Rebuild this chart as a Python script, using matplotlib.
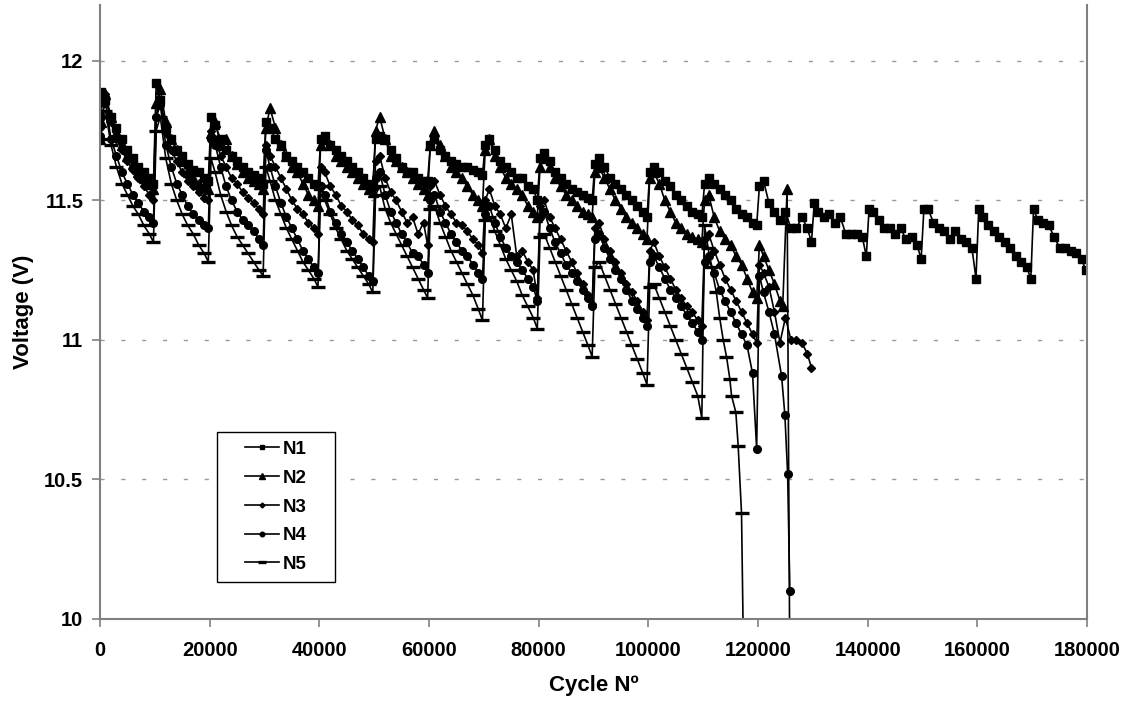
import matplotlib
matplotlib.use("Agg")

import matplotlib.pyplot as plt
from matplotlib.patches import Rectangle

# Every 10000 cycles the battery is recharged, so data are grouped by period.
PERIOD = 10000
OFFSETS = [250, 1000, 2000, 3000, 4000, 5000, 6000, 7000, 8000, 9000, 9750]

# voltage at cycle 0
START_VOLTS = {"N1": 11.88, "N2": 11.72, "N3": 11.76, "N4": 11.73, "N5": 11.72}

# one row of voltages per 10000-cycle period (values at OFFSETS)
N1_VOLTS = [
    [11.89, 11.86, 11.80, 11.76, 11.72, 11.68, 11.65, 11.62, 11.60, 11.58, 11.56],
    [11.92, 11.86, 11.76, 11.72, 11.68, 11.66, 11.63, 11.61, 11.60, 11.58, 11.57],
    [11.80, 11.77, 11.72, 11.68, 11.66, 11.64, 11.62, 11.60, 11.59, 11.58, 11.56],
    [11.78, 11.76, 11.72, 11.70, 11.66, 11.64, 11.62, 11.60, 11.58, 11.56, 11.55],
    [11.72, 11.73, 11.70, 11.68, 11.66, 11.64, 11.62, 11.60, 11.58, 11.56, 11.55],
    [11.72, 11.73, 11.72, 11.68, 11.65, 11.62, 11.60, 11.60, 11.58, 11.57, 11.57],
    [11.70, 11.72, 11.68, 11.66, 11.64, 11.63, 11.62, 11.62, 11.61, 11.60, 11.59],
    [11.70, 11.72, 11.68, 11.64, 11.62, 11.60, 11.58, 11.58, 11.55, 11.54, 11.50],
    [11.65, 11.67, 11.64, 11.60, 11.58, 11.56, 11.54, 11.53, 11.52, 11.51, 11.50],
    [11.63, 11.65, 11.62, 11.58, 11.56, 11.54, 11.52, 11.50, 11.48, 11.46, 11.44],
    [11.60, 11.62, 11.60, 11.57, 11.55, 11.52, 11.50, 11.48, 11.46, 11.45, 11.44],
    [11.56, 11.58, 11.56, 11.54, 11.52, 11.50, 11.47, 11.45, 11.44, 11.42, 11.41],
    [11.55, 11.57, 11.49, 11.46, 11.43, 11.46, 11.40, 11.40, 11.44, 11.40, 11.35],
    [11.49, 11.46, 11.44, 11.45, 11.42, 11.44, 11.38, 11.38, 11.38, 11.37, 11.30],
    [11.47, 11.46, 11.43, 11.40, 11.40, 11.38, 11.40, 11.36, 11.37, 11.34, 11.29],
    [11.47, 11.47, 11.42, 11.40, 11.39, 11.36, 11.39, 11.36, 11.35, 11.33, 11.22],
    [11.47, 11.44, 11.41, 11.39, 11.37, 11.35, 11.33, 11.30, 11.28, 11.26, 11.22],
    [11.47, 11.43, 11.42, 11.41, 11.37, 11.33, 11.33, 11.32, 11.31, 11.29, 11.25],
]

N2_VOLTS = [
    [11.78, 11.88, 11.80, 11.74, 11.70, 11.66, 11.63, 11.60, 11.58, 11.56, 11.54],
    [11.85, 11.90, 11.78, 11.72, 11.68, 11.64, 11.60, 11.58, 11.56, 11.55, 11.54],
    [11.74, 11.78, 11.70, 11.72, 11.66, 11.63, 11.60, 11.58, 11.57, 11.56, 11.54],
    [11.76, 11.83, 11.76, 11.70, 11.66, 11.62, 11.60, 11.56, 11.52, 11.50, 11.48],
    [11.70, 11.72, 11.70, 11.66, 11.64, 11.62, 11.60, 11.58, 11.56, 11.54, 11.53],
    [11.75, 11.80, 11.72, 11.66, 11.64, 11.62, 11.60, 11.58, 11.56, 11.54, 11.52],
    [11.70, 11.75, 11.70, 11.66, 11.62, 11.60, 11.58, 11.55, 11.52, 11.50, 11.48],
    [11.68, 11.72, 11.66, 11.62, 11.58, 11.56, 11.54, 11.52, 11.48, 11.46, 11.44],
    [11.62, 11.65, 11.62, 11.58, 11.55, 11.52, 11.50, 11.48, 11.46, 11.45, 11.44],
    [11.60, 11.62, 11.58, 11.54, 11.50, 11.47, 11.44, 11.42, 11.40, 11.38, 11.36],
    [11.58, 11.60, 11.56, 11.50, 11.46, 11.42, 11.40, 11.38, 11.37, 11.36, 11.35],
    [11.50, 11.52, 11.44, 11.39, 11.36, 11.34, 11.30, 11.27, 11.22, 11.17, 11.15],
]
N2_TAIL_CYCLES = [120250, 121000, 122000, 123000, 124000, 124500, 125300, 125800]
N2_TAIL_VOLTS = [11.34, 11.30, 11.25, 11.20, 11.14, 11.12, 11.54, 9.80]

N3_VOLTS = [
    [11.85, 11.88, 11.78, 11.72, 11.68, 11.64, 11.61, 11.58, 11.55, 11.52, 11.50],
    [11.80, 11.86, 11.74, 11.68, 11.64, 11.60, 11.57, 11.55, 11.53, 11.51, 11.50],
    [11.75, 11.72, 11.66, 11.62, 11.58, 11.56, 11.53, 11.51, 11.49, 11.47, 11.45],
    [11.70, 11.66, 11.62, 11.58, 11.54, 11.50, 11.47, 11.45, 11.42, 11.40, 11.38],
    [11.62, 11.60, 11.55, 11.52, 11.48, 11.46, 11.43, 11.41, 11.38, 11.36, 11.35],
    [11.64, 11.66, 11.58, 11.53, 11.50, 11.46, 11.42, 11.44, 11.38, 11.42, 11.34],
    [11.55, 11.57, 11.52, 11.48, 11.45, 11.42, 11.41, 11.39, 11.36, 11.34, 11.31],
    [11.50, 11.54, 11.48, 11.45, 11.40, 11.45, 11.30, 11.32, 11.28, 11.25, 11.15],
    [11.48, 11.50, 11.44, 11.40, 11.36, 11.32, 11.28, 11.24, 11.20, 11.16, 11.13],
    [11.40, 11.42, 11.36, 11.32, 11.28, 11.24, 11.20, 11.17, 11.14, 11.10, 11.07],
    [11.32, 11.35, 11.30, 11.26, 11.22, 11.18, 11.15, 11.12, 11.10, 11.07, 11.05],
    [11.36, 11.38, 11.32, 11.27, 11.22, 11.18, 11.14, 11.10, 11.06, 11.02, 10.99],
    [11.27, 11.24, 11.19, 11.10, 10.99, 11.08, 11.00, 11.00, 10.99, 10.95, 10.90],
]

N4_VOLTS = [
    [11.80, 11.85, 11.72, 11.66, 11.60, 11.56, 11.52, 11.49, 11.46, 11.44, 11.42],
    [11.80, 11.84, 11.70, 11.62, 11.56, 11.52, 11.48, 11.45, 11.43, 11.41, 11.40],
    [11.72, 11.70, 11.62, 11.55, 11.50, 11.46, 11.43, 11.41, 11.39, 11.36, 11.34],
    [11.68, 11.62, 11.55, 11.49, 11.44, 11.40, 11.36, 11.32, 11.29, 11.26, 11.24],
    [11.55, 11.52, 11.46, 11.42, 11.38, 11.35, 11.32, 11.29, 11.26, 11.23, 11.21],
    [11.58, 11.60, 11.52, 11.46, 11.42, 11.38, 11.35, 11.31, 11.30, 11.27, 11.24],
    [11.50, 11.52, 11.46, 11.42, 11.38, 11.35, 11.32, 11.30, 11.27, 11.24, 11.22],
    [11.45, 11.48, 11.42, 11.37, 11.33, 11.30, 11.28, 11.25, 11.22, 11.19, 11.14],
    [11.44, 11.46, 11.40, 11.35, 11.31, 11.27, 11.24, 11.21, 11.18, 11.15, 11.12],
    [11.36, 11.38, 11.33, 11.29, 11.25, 11.22, 11.18, 11.14, 11.11, 11.08, 11.05],
    [11.28, 11.30, 11.26, 11.22, 11.18, 11.15, 11.12, 11.09, 11.06, 11.03, 11.00],
    [11.28, 11.30, 11.24, 11.18, 11.14, 11.10, 11.06, 11.02, 10.98, 10.88, 10.61],
]
N4_TAIL_CYCLES = [120250, 121000, 122000, 123000, 124300, 124900, 125400, 125800]
N4_TAIL_VOLTS = [11.23, 11.17, 11.10, 11.02, 10.87, 10.73, 10.52, 10.10]

N5_VOLTS = [
    [11.80, 11.82, 11.70, 11.62, 11.56, 11.52, 11.48, 11.45, 11.41, 11.38, 11.35],
    [11.75, 11.80, 11.65, 11.56, 11.50, 11.45, 11.41, 11.38, 11.34, 11.31, 11.28],
    [11.65, 11.60, 11.52, 11.46, 11.41, 11.37, 11.34, 11.31, 11.28, 11.25, 11.23],
    [11.62, 11.57, 11.50, 11.45, 11.40, 11.36, 11.32, 11.28, 11.25, 11.22, 11.19],
    [11.55, 11.50, 11.45, 11.40, 11.36, 11.32, 11.29, 11.26, 11.23, 11.20, 11.17],
    [11.52, 11.55, 11.47, 11.42, 11.38, 11.34, 11.30, 11.26, 11.22, 11.18, 11.15],
    [11.47, 11.48, 11.42, 11.37, 11.32, 11.28, 11.24, 11.20, 11.16, 11.11, 11.07],
    [11.43, 11.44, 11.39, 11.34, 11.29, 11.25, 11.21, 11.16, 11.12, 11.08, 11.04],
    [11.37, 11.38, 11.33, 11.28, 11.23, 11.18, 11.13, 11.08, 11.03, 10.98, 10.94],
    [11.26, 11.28, 11.23, 11.18, 11.13, 11.08, 11.03, 10.98, 10.93, 10.88, 10.84],
    [11.19, 11.20, 11.15, 11.10, 11.05, 11.00, 10.95, 10.90, 10.85, 10.80, 10.72],
]
N5_TAIL_CYCLES = [110250, 110900, 111500, 112400, 113000, 113650, 114250,
                  114860, 115170, 115960, 116380, 116990, 117400]
N5_TAIL_VOLTS = [11.41, 11.33, 11.26, 11.17, 11.08, 11.00, 10.94,
                 10.86, 10.80, 10.74, 10.62, 10.38, 9.80]


def build_series(name, periods, tail_cycles=(), tail_volts=()):
    cycles = [0]
    volts = [START_VOLTS[name]]
    for k, row in enumerate(periods):
        for off, v in zip(OFFSETS, row):
            cycles.append(k * PERIOD + off)
            volts.append(v)
    cycles += list(tail_cycles)
    volts += list(tail_volts)
    return cycles, volts


SERIES = [
    ("N1", build_series("N1", N1_VOLTS), dict(marker="s", markersize=6)),
    ("N2", build_series("N2", N2_VOLTS, N2_TAIL_CYCLES, N2_TAIL_VOLTS), dict(marker="^", markersize=6.5)),
    ("N3", build_series("N3", N3_VOLTS), dict(marker="D", markersize=4.2)),
    ("N4", build_series("N4", N4_VOLTS, N4_TAIL_CYCLES, N4_TAIL_VOLTS), dict(marker="o", markersize=5.5)),
    ("N5", build_series("N5", N5_VOLTS, N5_TAIL_CYCLES, N5_TAIL_VOLTS), dict(marker="_", markersize=10, markeredgewidth=2.4)),
]

plt.rcParams["font.family"] = ["Liberation Sans", "DejaVu Sans"]

fig = plt.figure(figsize=(11.26, 7.03), dpi=100)
ax = fig.add_axes([0.0888, 0.1195, 0.8766, 0.8734])

for label, (x, y), style in SERIES:
    ax.plot(x, y, color="black", linewidth=1.2, markerfacecolor="black",
            markeredgecolor="black", label=label, **style)

ax.set_xlim(0, 180000)
ax.set_ylim(10, 12.2)
ax.set_xticks(range(0, 180001, 20000))
ax.set_yticks([10, 10.5, 11, 11.5, 12])
ax.set_yticklabels(["10", "10.5", "11", "11.5", "12"])

for y in [10.5, 11, 11.5, 12]:
    ax.axhline(y, color="#9a9a9a", linewidth=1.0, linestyle=(0, (3, 12)), zorder=0)

for side in ["left", "bottom", "right"]:
    ax.spines[side].set_color("#808080")
    ax.spines[side].set_linewidth(1.5)
ax.spines["top"].set_visible(False)

ax.tick_params(axis="both", direction="out", length=6, width=1.2, color="#808080",
               labelsize=14.5)
ax.tick_params(axis="x", pad=10)
ax.tick_params(axis="y", pad=6)
for t in ax.get_xticklabels() + ax.get_yticklabels():
    t.set_fontweight("bold")

ax.set_xlabel("Cycle Nº", fontsize=16, fontweight="bold", labelpad=11)
ax.set_ylabel("Voltage (V)", fontsize=16, fontweight="bold", labelpad=7)

# legend box drawn separately so the entries sit centred with wide side margins
ax.add_patch(Rectangle((0.1185, 0.06), 0.1196, 0.2443, transform=ax.transAxes,
                       facecolor="white", edgecolor="black", linewidth=1.0, zorder=5))
leg = ax.legend(loc="center", bbox_to_anchor=(0.1783, 0.1824),
                prop={"weight": "bold", "size": 13.5}, frameon=False,
                labelspacing=0.62, handlelength=1.8, handletextpad=0.2,
                markerscale=0.6, borderaxespad=0, borderpad=0)
leg.set_zorder(6)

fig.savefig("out.png", dpi=100)
